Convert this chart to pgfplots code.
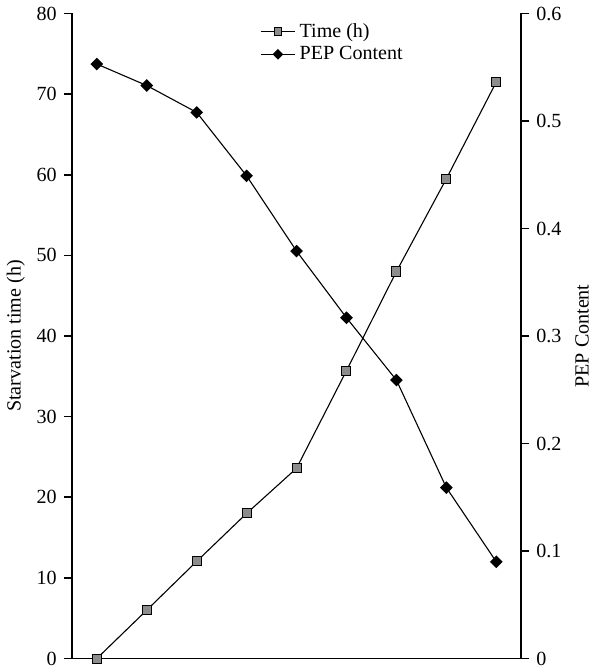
\documentclass[border=0pt]{standalone}
\usepackage{pgfplots}
\pgfplotsset{compat=1.18}
\usepackage{fontspec}
\setmainfont{Liberation Serif}
\definecolor{markgray}{HTML}{8C8C8C}

\begin{document}
\begin{tikzpicture}
\pgfplotsset{
  every axis/.append style={
    scale only axis, width=224pt, height=321.5pt,
    xmin=-0.5, xmax=8.5,
    /pgf/number format/assume math mode=true,
    tick label style={font=\fontsize{10}{12}\selectfont},
    label style={font=\fontsize{10}{12}\selectfont},
    tick align=outside, major tick length=4pt,
    axis line style={line width=0.9pt}, tick style={line width=0.8pt, black},
  },
}
\begin{axis}[
    axis y line*=left, axis x line*=bottom,
    xtick=\empty,
    ymin=0, ymax=80, ytick={0,10,...,80},
    ylabel={Starvation time (h)},
    ylabel style={yshift=-1pt},
  ]
  \addplot[black, line width=0.55pt, mark=square*,
    mark options={fill=markgray, draw=black, mark size=2.25pt, line width=0.5pt}]
    coordinates {(0,0)(1,6)(2,12.05)(3,18)(4,23.6)(5,35.7)(6,48)(7,59.5)(8,71.5)};
\end{axis}
\begin{axis}[
    axis y line*=right, axis x line=none,
    ymin=0, ymax=0.6, ytick={0,0.1,...,0.6},
    yticklabel style={/pgf/number format/fixed},
    ylabel={PEP Content},
    legend style={draw=none, fill=none, at={(0.405,0.998)}, anchor=north west,
      font=\fontsize{10}{12}\selectfont, row sep=-1pt,
      legend cell align=left},
  ]
  \addlegendimage{black, line width=0.55pt, mark=square*, mark options={fill=markgray, draw=black, mark size=1.9pt, line width=0.5pt}}
  \addlegendentry{Time (h)}
  \addlegendimage{black, line width=0.55pt, mark=square*, mark options={fill=black, rotate=45, mark size=1.6pt}}
  \addlegendentry{PEP Content}
  \addplot[black, line width=0.55pt, mark=square*,
    mark options={fill=black, rotate=45, mark size=1.95pt}, forget plot]
    coordinates {(0,0.553)(1,0.533)(2,0.508)(3,0.449)(4,0.379)(5,0.317)(6,0.259)(7,0.159)(8,0.09)};
\end{axis}
\end{tikzpicture}
\end{document}
